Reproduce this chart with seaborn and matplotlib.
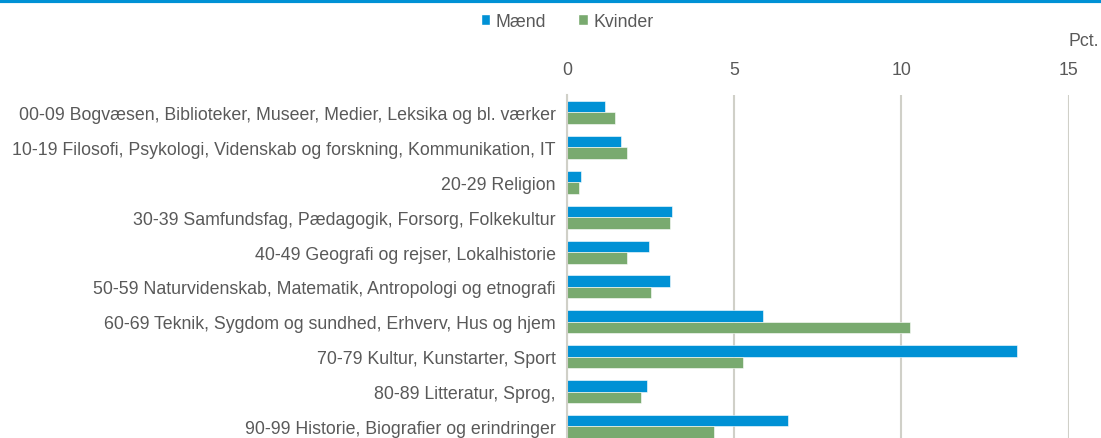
import pandas as pd
import seaborn as sns
import matplotlib.pyplot as plt
from matplotlib.patches import Patch
from matplotlib.lines import Line2D

# data (pct)
kategorier = [
    "00-09 Bogvæsen, Biblioteker, Museer, Medier, Leksika og bl. værker",
    "10-19 Filosofi, Psykologi, Videnskab og forskning, Kommunikation, IT",
    "20-29 Religion",
    "30-39 Samfundsfag, Pædagogik, Forsorg, Folkekultur",
    "40-49 Geografi og rejser, Lokalhistorie",
    "50-59 Naturvidenskab, Matematik, Antropologi og etnografi",
    "60-69 Teknik, Sygdom og sundhed, Erhverv, Hus og hjem",
    "70-79 Kultur, Kunstarter, Sport",
    "80-89 Litteratur, Sprog,",
    "90-99 Historie, Biografier og erindringer",
]
maend = [1.14, 1.61, 0.42, 3.15, 2.44, 3.08, 5.87, 13.44, 2.39, 6.62]
kvinder = [1.43, 1.80, 0.36, 3.07, 1.78, 2.50, 10.27, 5.25, 2.20, 4.39]
x_ticks = [0, 5, 10, 15]

blaa = "#0091D5"
groen = "#79AA6F"
tekst = "#595959"

df = pd.DataFrame({
    "kategori": kategorier * 2,
    "pct": maend + kvinder,
    "køn": ["Mænd"] * len(maend) + ["Kvinder"] * len(kvinder),
})

sns.set_style("white")
plt.rcParams["font.family"] = ["Liberation Sans Narrow", "Liberation Sans", "DejaVu Sans"]
fs = 12.8

fig = plt.figure(figsize=(11.01, 4.39), dpi=100)
ax = fig.add_axes([567 / 1101, 0, 501.7 / 1101, 1 - 96 / 439])

sns.barplot(data=df, y="kategori", x="pct", hue="køn", orient="h",
            palette={"Mænd": blaa, "Kvinder": groen}, saturation=1, width=0.66,
            edgecolor="white", linewidth=0.4, legend=False, ax=ax)

ax.set_xlim(0, 15)
ax.set_ylim(9.33, -0.5)
ax.set_xticks(x_ticks)
ax.xaxis.tick_top()
ax.tick_params(axis="x", length=0, labelsize=fs, labelcolor=tekst, pad=12)
ax.tick_params(axis="y", length=0, labelsize=fs, labelcolor=tekst, pad=8)
ax.set_xlabel("")
ax.set_ylabel("")
ax.grid(axis="x", color="#D0D0C8", linewidth=1.5)
ax.set_axisbelow(True)
for side in ["top", "right", "bottom"]:
    ax.spines[side].set_visible(False)
ax.spines["left"].set_color("#D0D0C8")
ax.spines["left"].set_linewidth(1.5)

fig.text(1099 / 1101, 1 - 42 / 439, "Pct.", ha="right", va="center",
         fontsize=fs, color=tekst)

handles = [Patch(facecolor=blaa, label="Mænd"), Patch(facecolor=groen, label="Kvinder")]
fig.legend(handles=handles, loc="center", bbox_to_anchor=(567 / 1101, 1 - 22 / 439),
           ncol=2, frameon=False, fontsize=fs, labelcolor=tekst,
           handlelength=0.55, handleheight=0.55, handletextpad=0.3, columnspacing=1.8)

# blue rule along the top edge
fig.add_artist(Line2D([0, 1], [1 - 2 / 439, 1 - 2 / 439], color=blaa, linewidth=3,
                      transform=fig.transFigure))

fig.savefig("out.png", dpi=100)
